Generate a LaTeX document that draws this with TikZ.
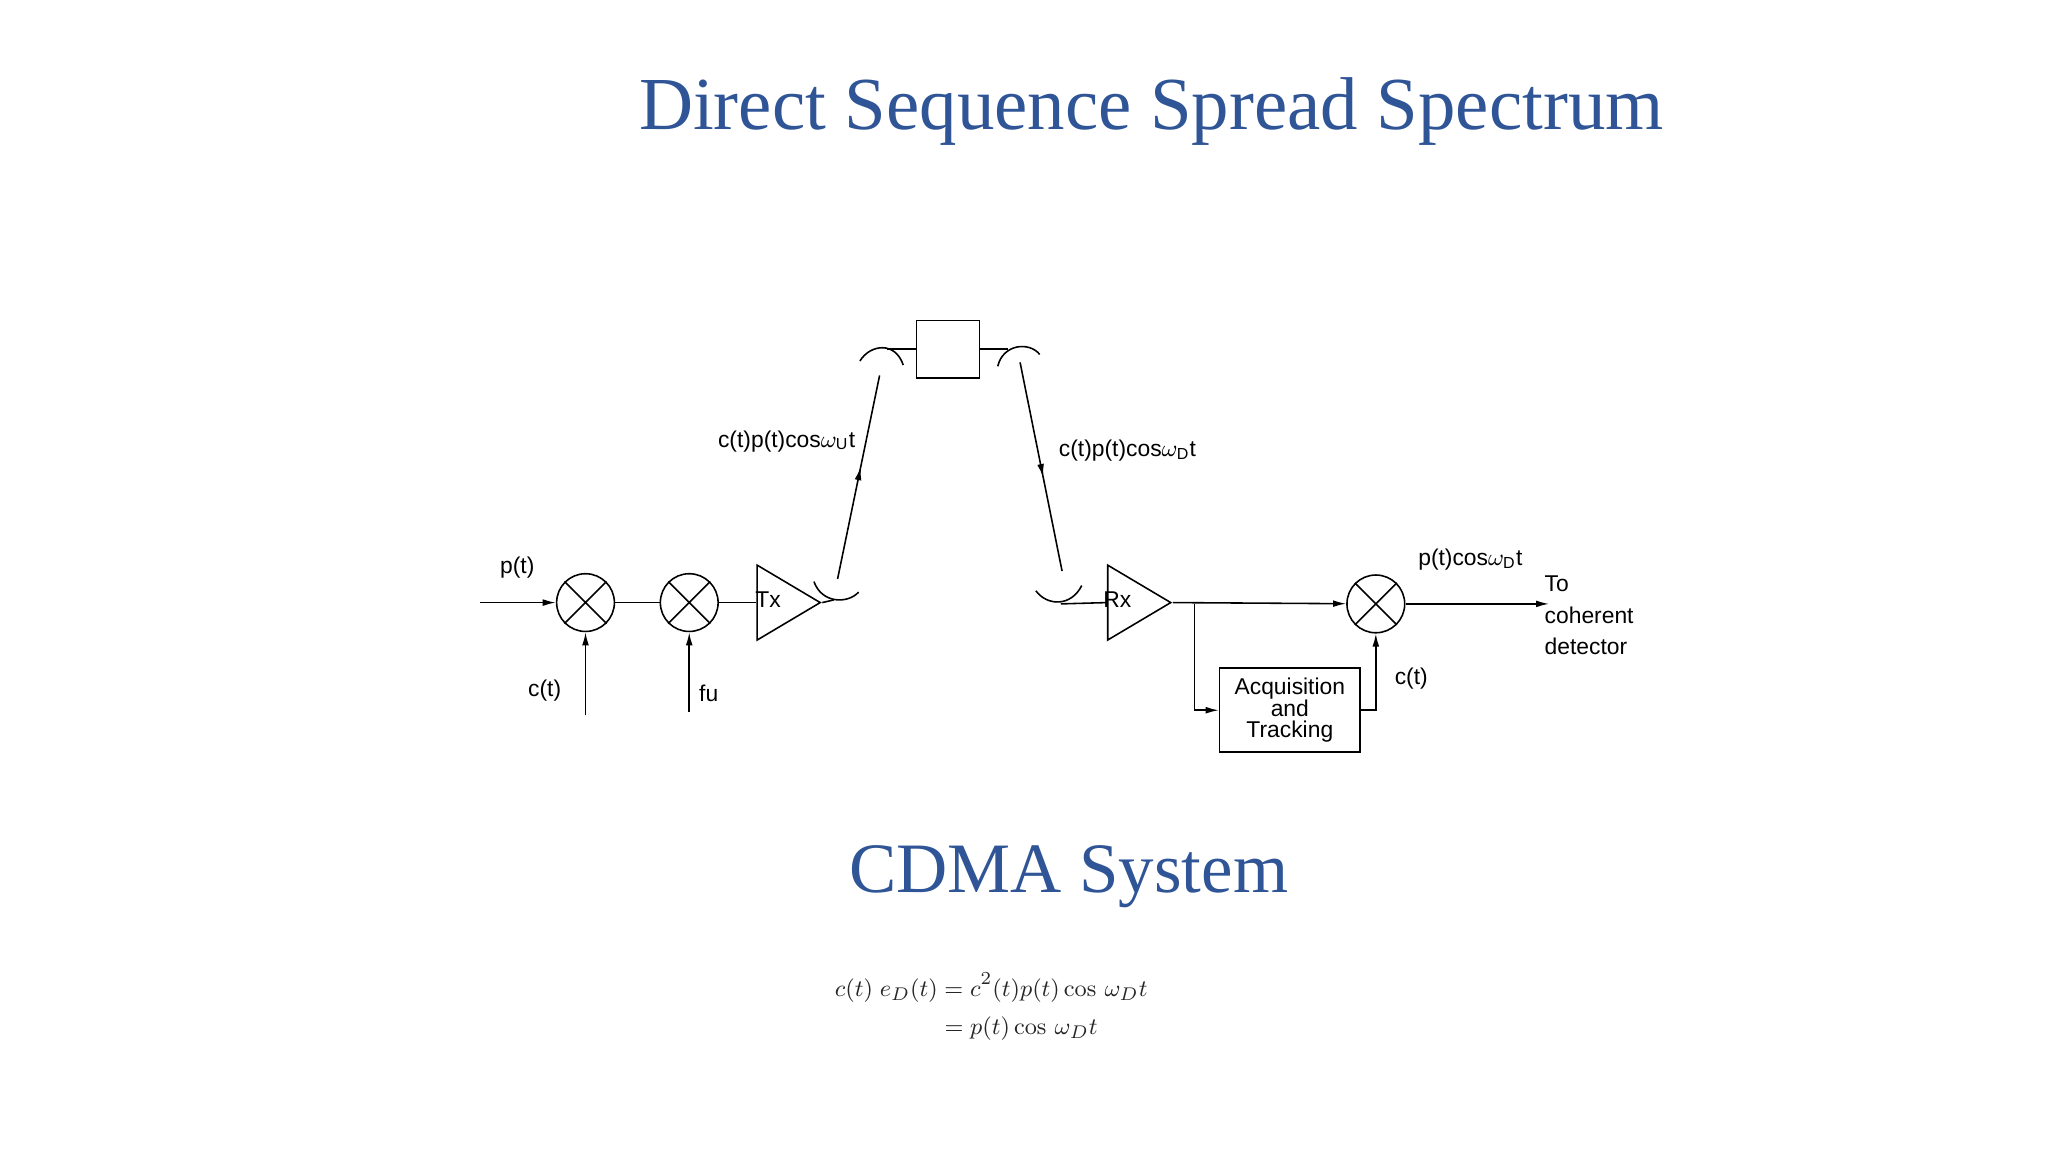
\documentclass[tikz,border=0pt]{standalone}
\usepackage{amsmath}
\usepackage[no-math]{fontspec}
\setmainfont{Liberation Sans}
\newfontfamily\titlefont{Liberation Serif}
\usetikzlibrary{arrows.meta,shapes.geometric,decorations.markings}
\definecolor{titleblue}{HTML}{2F5597}
\begin{document}
\begin{tikzpicture}[x=0.5pt,y=-0.5pt,line width=0.6pt,
  lab/.style={font=\fontsize{8.7}{10}\selectfont,inner sep=1pt},
  arr/.style={-{Latex[length=5pt,width=2.6pt]}},
  midarr/.style={postaction={decorate},decoration={markings,mark=at position #1 with {\arrow{Latex[length=5pt,width=2.6pt]}}}},
  mix/.style={circle,draw,minimum size=22pt,inner sep=0pt},
  amp/.style={isosceles triangle,draw,minimum height=24pt,minimum width=28.5pt,isosceles triangle stretches,inner sep=0pt},
  ttl/.style={font=\titlefont\fontsize{28.5}{32}\selectfont,text=titleblue}]
\useasboundingbox (0,0) rectangle (1560,877.5);
\node[ttl] (title) at (877,85) {Direct Sequence Spread Spectrum};
\node[ttl,font=\titlefont\fontsize{27}{30}\selectfont] (cdma) at (814,668) {CDMA System};
% transmitter
\coordinate (in) at (366,459);
\node[mix] (m1) at (446,459) {};
\node[mix] (m2) at (525,459) {};
\draw (m1.north east)--(m1.south west) (m1.north west)--(m1.south east);
\draw (m2.north east)--(m2.south west) (m2.north west)--(m2.south east);
\node[amp] (tx) at (593,459) {};
\node[lab] at (585,457) {Tx};
\draw[arr] (in)--(m1);
\draw (m1)--(m2) (m2)--(tx.west);
\coordinate (ct1) at (446,545);
\coordinate (fu) at (525,542);
\draw[arr] (ct1)--(m1.south);
\draw[arr] (fu)--(m2.south);
\node[lab,anchor=east] at (430,526) {c(t)};
\node[lab,anchor=west] at (530,528) {fu};
\node[lab] at (394,432) {p(t)};
% tx antenna
\coordinate (txd) at (635,457);
\draw (tx.apex)--(txd);
\draw (620,443) .. controls (626,460) and (646,460) .. (654,451);
\coordinate (up0) at (638,441);
\coordinate (up1) at (670,286);
\draw[midarr=0.55] (up0)--(up1);
\node[lab,anchor=east] at (654,336) {c(t)p(t)cos$\omega_{\text{U}}$t};
% satellite
\node[draw,minimum width=24pt,minimum height=22pt,inner sep=0pt] (sat) at (722,266) {};
\draw (sat.west)--(676,266) (sat.east)--(768,266);
\draw (655,275) .. controls (663,262) and (682,260) .. (688,278);
\draw (760,279) .. controls (764,262) and (784,260) .. (792,270);
\coordinate (dn0) at (777,276);
\coordinate (dn1) at (809,435);
\draw[midarr=0.55] (dn0)--(dn1);
\node[lab,anchor=west] at (804,343) {c(t)p(t)cos$\omega_{\text{D}}$t};
% receiver
\draw (789,450) .. controls (798,462) and (816,462) .. (824,446);
\node[amp] (rx) at (860,459) {};
\node[lab] at (851,457) {Rx};
\coordinate (rxd) at (808,460);
\draw (rxd)--(rx.west);
\node[mix] (m3) at (1048,460) {};
\draw (m3.north east)--(m3.south west) (m3.north west)--(m3.south east);
\draw[arr] (rx.apex)--(m3);
\coordinate (br) at (910,460);
\node[draw,minimum width=53.5pt,minimum height=32pt,inner sep=0pt,align=center,font=\fontsize{8.7}{8.3}\selectfont] (acq) at (982.5,541) {Acquisition\\and\\Tracking};
\draw[arr] (br)|-(acq.west);
\draw[arr] (acq.east)-|(m3.south);
\node[lab] at (1075,517) {c(t)};
\coordinate (out) at (1180,460);
\draw[arr] (m3)--(out);
\node[lab] at (1120,426) {p(t)cos$\omega_{\text{D}}$t};
\node[lab,anchor=north west,align=left,font=\fontsize{8.7}{12}\selectfont] at (1174,436) {To\\coherent\\detector};
% equations
\node[font=\fontsize{9.5}{11.5}\selectfont,text=black!85] (eq) at (755,768) {$\begin{aligned} c(t)\; e_D(t) &= c^2(t)p(t)\cos\,\omega_D t\\ &= p(t)\cos\,\omega_D t\end{aligned}$};
\end{tikzpicture}
\end{document}
